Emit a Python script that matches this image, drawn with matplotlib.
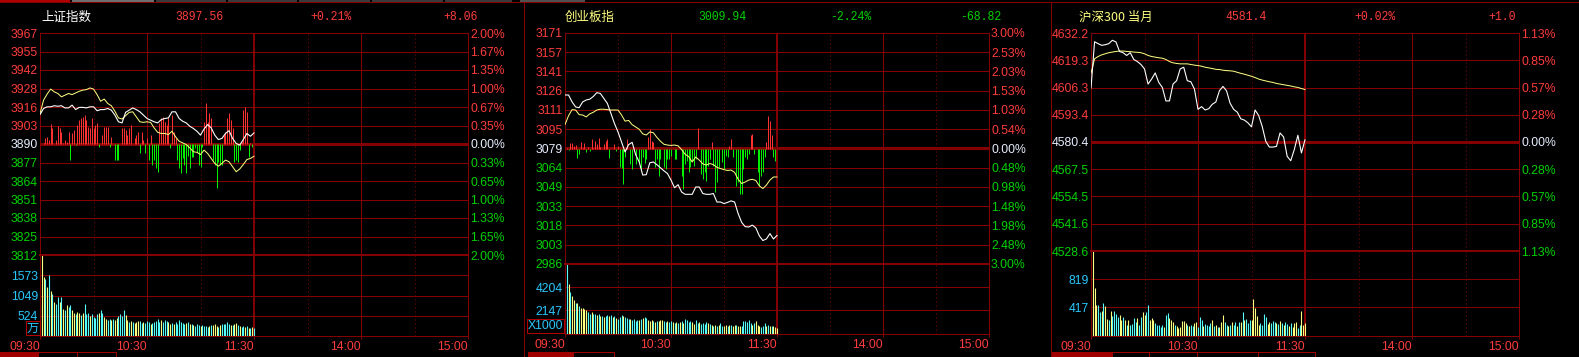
import numpy as np
import matplotlib
matplotlib.use('Agg')
import matplotlib.pyplot as plt
from matplotlib.patches import Rectangle

plt.rcParams['font.family'] = ['Liberation Sans', 'Noto Sans CJK SC', 'DejaVu Sans']

W, H = 1579, 357
PX = 0.72  # one pixel in points at dpi 100

############## data
t_line = list(range(0, 121, 2))   # minutes after 09:30 (sampled every 2 min)
t_bar = list(range(121))          # one bar per minute
time_ticks = [0, 60, 120, 180, 240]
time_labels = ['09:30', '10:30', '11:30', '14:00', '15:00']

# 上证指数
sh_name = '上证指数'
sh_head = ['3897.56', '+0.21%', '+8.06']
sh_prev = 3889.50
sh_range = 2.00
sh_left = ['3967', '3955', '3942', '3928', '3916', '3903', '3890',
           '3877', '3864', '3851', '3838', '3825', '3812']
sh_right = ['2.00%', '1.67%', '1.35%', '1.00%', '0.67%', '0.35%', '0.00%',
            '0.33%', '0.65%', '1.00%', '1.33%', '1.65%', '2.00%']
sh_white = [0.53, 0.64, 0.67, 0.67, 0.69, 0.68, 0.69, 0.65, 0.65, 0.70, 0.62,
            0.66, 0.66, 0.65, 0.67, 0.67, 0.60, 0.62, 0.62, 0.64, 0.61, 0.52,
            0.40, 0.38, 0.57, 0.61, 0.65, 0.62, 0.58, 0.52, 0.46, 0.43, 0.40,
            0.38, 0.44, 0.46, 0.47, 0.58, 0.58, 0.46, 0.41, 0.38, 0.32, 0.28,
            0.23, 0.16, 0.27, 0.35, 0.29, 0.16, 0.08, 0.10, 0.19, 0.24, 0.10,
            0.01, -0.02, 0.08, 0.19, 0.14, 0.20]
sh_yellow = [0.55, 0.79, 0.90, 0.99, 0.94, 0.91, 0.85, 0.88, 0.91, 0.89, 0.92,
             0.95, 0.97, 0.98, 1.01, 0.99, 0.89, 0.77, 0.81, 0.73, 0.69, 0.59,
             0.47, 0.45, 0.51, 0.57, 0.58, 0.49, 0.40, 0.39, 0.40, 0.39, 0.29,
             0.21, 0.19, 0.19, 0.17, 0.23, 0.13, 0.05, 0.02, -0.01, -0.07, -0.14,
             -0.15, -0.19, -0.11, -0.17, -0.26, -0.35, -0.40, -0.35, -0.29, -0.32,
             -0.41, -0.50, -0.45, -0.37, -0.28, -0.26, -0.22]
sh_breadth = [0, 0, 1, 6, 7, 4, 20, 16, 0, 4,
              18, 16, 12, 1, 4, 2, 12, -16, 11, 14,
              -1, 19, 24, 26, 27, 29, 24, 17, 16, 26,
              16, 19, 21, -3, 0, 9, 17, 17, 17, -3,
              7, 0, -16, -16, -16, 0, 16, 16, 14, 9,
              16, 19, 0, 6, 9, 12, -9, 12, 4, -9,
              6, -16, 9, -21, -16, -24, -28, 21, 26, 27,
              22, 19, 26, -4, 29, 12, 6, -16, -24, -29,
              -14, -21, -29, -12, -24, -13, -13, -4, -8, -21,
              -23, -3, 22, 41, 22, 31, 26, -16, -21, -44,
              -18, -21, -21, 9, 12, 26, 31, 24, 16, -18,
              -16, -18, -6, 2, 34, 37, 32, -13, 1, -3, 0]
sh_vol = [791, 2090, 1522, 1479, 1264, 1591, 1178, 1092, 877, 834,
          1006, 877, 1006, 705, 662, 791, 748, 791, 662, 594,
          559, 619, 594, 533, 594, 817, 559, 594, 507, 576,
          490, 473, 559, 594, 679, 594, 490, 447, 421, 447,
          421, 439, 404, 473, 507, 559, 507, 662, 533, 404,
          361, 387, 361, 335, 361, 378, 387, 335, 361, 335,
          387, 361, 318, 335, 361, 387, 447, 361, 421, 361,
          404, 387, 361, 318, 335, 318, 361, 318, 404, 361,
          335, 318, 335, 361, 318, 301, 275, 249, 318, 275,
          266, 275, 249, 266, 232, 249, 275, 275, 301, 249,
          232, 275, 318, 301, 318, 361, 301, 275, 275, 318,
          335, 275, 249, 232, 249, 232, 249, 215, 215, 232, 215]
sh_vol_dir = ('yyycycycyc' 'cycycyccyy' 'cyycycccyc' 'cccyccyycc' 'ycyyccccyy'
              'cycyyyccyc' 'ccycccccyc' 'ccyycycccc' 'ccycycyccc' 'yccccycyyy'
              'cycccccycy' 'ycyccycycy' 'c')
sh_vol_ticks = [524, 1049, 1573]
sh_vol_top = 2098
sh_unit = '万'

# 创业板指
cy_name = '创业板指'
cy_head = ['3009.94', '-2.24%', '-68.82']
cy_prev = 3078.76
cy_range = 3.00
cy_left = ['3171', '3157', '3141', '3126', '3111', '3095', '3079',
           '3064', '3049', '3033', '3018', '3003', '2986']
cy_right = ['3.00%', '2.53%', '2.03%', '1.53%', '1.03%', '0.54%', '0.00%',
            '0.48%', '0.98%', '1.48%', '1.98%', '2.48%', '3.00%']
cy_white = [1.39, 1.39, 1.21, 1.08, 1.06, 1.21, 1.26, 1.28, 1.35, 1.45, 1.43,
            1.30, 1.17, 0.91, 0.65, 0.43, 0.17, -0.09, 0.10, 0.16, -0.16, -0.35,
            -0.69, -0.68, -0.37, -0.35, -0.42, -0.50, -0.58, -0.65, -0.82, -1.02,
            -0.94, -1.13, -1.19, -1.19, -1.19, -1.00, -1.00, -1.17, -1.19, -1.19,
            -1.17, -1.39, -1.39, -1.43, -1.40, -1.36, -1.39, -1.69, -1.92, -2.03,
            -2.04, -1.99, -2.06, -2.27, -2.39, -2.35, -2.21, -2.35, -2.26]
cy_yellow = [0.62, 0.85, 1.01, 1.00, 0.88, 0.87, 0.82, 0.90, 0.94, 1.00, 1.02,
             1.02, 1.01, 1.00, 1.00, 1.00, 0.87, 0.71, 0.73, 0.62, 0.56, 0.50,
             0.38, 0.35, 0.43, 0.41, 0.29, 0.19, 0.11, 0.09, 0.08, 0.09, 0.07,
             -0.03, -0.15, -0.21, -0.35, -0.22, -0.30, -0.40, -0.43, -0.39, -0.42,
             -0.49, -0.52, -0.55, -0.57, -0.56, -0.62, -0.80, -0.91, -0.87, -0.82,
             -0.80, -0.83, -0.97, -1.04, -0.95, -0.82, -0.74, -0.74]
cy_breadth = [0, 1, -1, 6, 6, 3, 4, -9, -5, 7,
              1, 6, -3, 2, -2, 10, 1, 8, 5, 11,
              2, 0, 5, 8, 10, -9, 0, 0, 5, -2,
              3, -18, -19, -35, -8, 10, 0, -15, -20, 0,
              -15, 0, -13, -22, -8, -14, -10, 12, 20, 8,
              7, -18, -10, -27, -10, 0, -18, -20, -10, -10,
              -7, 0, -10, -10, 0, 0, -27, -40, -15, -12,
              -23, -18, -12, -17, -10, 21, 0, -25, -30, -23,
              -32, -17, -10, 7, -17, -43, -33, -18, 0, -13,
              -20, -7, -8, 3, 10, -8, 0, -37, -33, -45,
              -45, -20, -8, -10, -5, 14, 15, -5, 0, -23,
              -37, -27, -23, -8, 7, 33, 28, 14, -8, -12, 0]
cy_vol = [1520, 6288, 4500, 3814, 3427, 3069, 2771, 2831, 2563, 2324,
          2384, 2265, 2116, 1937, 1818, 1937, 1818, 1818, 1728, 1788,
          1639, 1579, 1520, 1579, 1699, 1639, 1728, 1520, 1639, 1401,
          1371, 1520, 1728, 1639, 1520, 1430, 1341, 1371, 1281, 1341,
          1192, 1281, 1222, 1341, 1401, 1520, 1430, 1281, 1192, 1281,
          1132, 1043, 1132, 1192, 1281, 1222, 1132, 1043, 1132, 1043,
          1132, 1043, 983, 1043, 983, 1043, 1132, 983, 1341, 1222,
          1043, 1132, 1043, 924, 1281, 983, 1043, 924, 983, 924,
          1043, 983, 924, 834, 745, 805, 745, 834, 983, 745,
          745, 805, 745, 834, 805, 745, 805, 834, 745, 685,
          745, 1132, 1132, 1043, 1222, 983, 834, 983, 1132, 834,
          685, 626, 745, 983, 745, 834, 745, 685, 745, 626, 536]
cy_vol_dir = ('wcycyycycy' 'yyyccyccyc' 'ycyccycycy' 'cccycccycc' 'ccycyccyyy'
              'cycyyyccyc' 'cycycycycc' 'ccyyccyccc' 'cycycycycc' 'yycycyycyy'
              'ccccccycyy' 'ycccycycyy' 'y')
cy_vol_ticks = [2147, 4204]
cy_vol_top = 6300
cy_unit = 'X1000'

# 沪深300 当月 (price points)
hs_name = '沪深300 当月'
hs_head = ['4581.4', '+0.02%', '+1.0']
hs_prev = 4580.4
hs_range = 1.13
hs_left = ['4632.2', '4619.3', '4606.3', '4593.4', '4580.4',
           '4567.5', '4554.5', '4541.6', '4528.6']
hs_right = ['1.13%', '0.85%', '0.57%', '0.28%', '0.00%',
            '0.28%', '0.57%', '0.85%', '1.13%']
hs_white = [4606.0, 4628.0, 4627.1, 4626.3, 4626.6, 4627.1, 4628.7, 4627.9,
            4623.4, 4622.8, 4621.5, 4622.8, 4619.6, 4618.6, 4617.2, 4615.1,
            4607.9, 4610.3, 4613.2, 4608.7, 4606.3, 4599.9, 4599.9, 4607.9,
            4609.5, 4615.1, 4615.9, 4609.5, 4609.0, 4605.5, 4595.9, 4597.2,
            4595.6, 4596.2, 4598.3, 4599.4, 4604.7, 4606.8, 4604.7, 4598.8,
            4595.9, 4594.6, 4591.4, 4590.8, 4589.5, 4587.6, 4595.6, 4593.0,
            4587.8, 4580.7, 4578.0, 4578.0, 4578.3, 4584.7, 4582.8, 4573.6,
            4571.5, 4576.8, 4583.6, 4575.2, 4581.4]
hs_yellow = [4613.0, 4619.9, 4621.0, 4621.8, 4622.3, 4622.8, 4623.1, 4623.4,
             4623.6, 4623.6, 4623.4, 4623.3, 4623.1, 4623.0, 4622.8, 4622.3,
             4621.5, 4621.0, 4620.7, 4620.4, 4620.2, 4619.6, 4618.6, 4618.0,
             4617.7, 4617.5, 4617.5, 4617.5, 4617.2, 4616.9, 4616.7, 4616.4,
             4615.9, 4615.6, 4615.3, 4614.9, 4614.8, 4614.5, 4614.3, 4614.2,
             4614.0, 4613.5, 4613.0, 4612.6, 4612.1, 4611.6, 4611.0, 4610.3,
             4609.8, 4609.4, 4609.0, 4608.7, 4608.2, 4607.9, 4607.6, 4607.3,
             4607.0, 4606.6, 4606.3, 4605.8, 4605.3]
hs_vol = [126, 1237, 694, 451, 451, 354, 369, 475, 427, 243,
          233, 364, 291, 364, 320, 272, 306, 233, 272, 233,
          155, 233, 160, 175, 257, 209, 257, 160, 281, 344,
          306, 354, 451, 233, 257, 233, 194, 160, 160, 136,
          160, 136, 306, 340, 257, 233, 209, 160, 146, 112,
          126, 218, 218, 194, 160, 146, 160, 146, 184, 209,
          136, 272, 233, 146, 175, 160, 146, 184, 233, 146,
          160, 136, 126, 209, 306, 209, 160, 146, 160, 209,
          160, 209, 146, 209, 209, 354, 233, 243, 194, 233,
          233, 534, 403, 291, 160, 184, 160, 320, 272, 175,
          209, 184, 223, 209, 184, 175, 223, 194, 160, 209,
          175, 146, 184, 136, 184, 209, 112, 160, 369, 160, 184]
hs_vol_dir = ('wyyyccycyy' 'cyccccyycy' 'cyccccyccy' 'yccyyycccc' 'cyccyyycyy'
              'yyyycyccyy' 'cccyccccyc' 'ycyyyccycy' 'ccycycyccc' 'yyyyyccccy'
              'ycccycycyc' 'cycyyyccyy' 'y')
hs_vol_ticks = [417, 819]
hs_vol_top = 1230

############## style
GRID = '#840000'
RED = '#FF3C3C'
GREEN = '#00D200'
CYAN = '#28C8FF'
ZERO_TXT = '#E6EEFF'
HEAD_Y = '#FFFF80'
VOLC = {'y': '#FFFF80', 'c': '#54FCFC', 'w': '#FFFFFF'}
FS = 8.8

fig = plt.figure(figsize=(W / 100, H / 100), dpi=100, facecolor='black')


def px_axes(x0, y0, x1, y1):
    return fig.add_axes([x0 / W, 1 - y1 / H, (x1 - x0) / W, (y1 - y0) / H])


def px_rect(x0, y0, x1, y1, **kw):
    fig.add_artist(Rectangle((x0 / W, 1 - y1 / H), (x1 - x0) / W, (y1 - y0) / H,
                             transform=fig.transFigure, **kw))


def vgrid(ax):
    for t in (30, 90, 150, 210):
        ax.axvline(t, color=GRID, lw=PX, ls=(0, (1, 3)), zorder=1)
    ax.axvline(60, color=GRID, lw=PX, zorder=1)
    ax.axvline(180, color=GRID, lw=PX, zorder=1)
    ax.axvline(120, color=GRID, lw=2 * PX, zorder=1)


def panel(box, prev, rng, left, right, white, yellow, breadth, vol, vdir,
          vticks, vtop, pct=True):
    x0, x1, y0, ysep, y1 = box
    lo, hi = prev * (1 - rng / 100), prev * (1 + rng / 100)
    levels = np.linspace(hi, lo, len(left))
    mid = len(left) // 2
    tcol = [RED] * mid + [ZERO_TXT] + [GREEN] * mid

    # price area with grid and left labels
    ax = px_axes(x0, y0, x1, ysep)
    ax.set_facecolor('black')
    ax.set_xlim(0, 240)
    ax.set_ylim(lo, hi)
    ax.set_xticks([])
    ax.set_yticks(levels, left)
    ax.tick_params(axis='y', length=0, pad=1.5, labelsize=FS)
    for lb, c in zip(ax.get_yticklabels(), tcol):
        lb.set_color(c)
    for i, lv in enumerate(levels[1:-1], 1):
        ax.axhline(lv, color=GRID, lw=(3 if i == mid else 1) * PX, zorder=1)
    vgrid(ax)
    for s in ('left', 'right', 'top'):
        ax.spines[s].set_color(GRID)
        ax.spines[s].set_linewidth(PX)
    ax.spines['bottom'].set_visible(False)

    # breadth bars
    if breadth is not None:
        axb = px_axes(x0, y0, x1, ysep)
        axb.patch.set_visible(False)
        axb.axis('off')
        axb.set_xlim(0, 240)
        half = (ysep - y0) / 2.0
        axb.set_ylim(-half, half)
        axb.vlines(t_bar, 0, breadth,
                   colors=['#FF3232' if v > 0 else '#00F000' for v in breadth],
                   lw=1.0 * PX)

    # lines + right labels
    axl = px_axes(x0, y0, x1, ysep)
    axl.patch.set_visible(False)
    axl.set_xlim(0, 240)
    axl.set_ylim(lo, hi)
    for s in axl.spines.values():
        s.set_visible(False)
    axl.set_xticks([])
    axl.yaxis.tick_right()
    axl.set_yticks(levels, right)
    axl.tick_params(axis='y', length=0, pad=1.5, labelsize=FS)
    for lb, c in zip(axl.get_yticklabels(), tcol):
        lb.set_color(c)
    if pct:
        yw = [prev * (1 + p / 100) for p in white]
        yy = [prev * (1 + p / 100) for p in yellow]
    else:
        yw, yy = white, yellow
    axl.plot(t_line, yy, color='#FFFF80', lw=1.0 * PX, zorder=3)
    axl.plot(t_line, yw, color='white', lw=1.1 * PX, zorder=4)

    # volume
    axv = px_axes(x0, ysep, x1, y1)
    axv.set_facecolor('black')
    axv.set_xlim(0, 240)
    axv.set_ylim(0, vtop)
    axv.set_yticks(vticks, [str(v) for v in vticks])
    axv.tick_params(axis='y', length=0, pad=1.5, labelsize=FS, labelcolor=CYAN)
    axv.set_xticks(time_ticks, time_labels)
    axv.tick_params(axis='x', length=2.2, width=PX, color=GRID, pad=1.2,
                    labelsize=FS, labelcolor=RED)
    for lb in axv.get_xticklabels():
        lb.set_horizontalalignment('right')
    for v in vticks:
        axv.axhline(v, color=GRID, lw=PX, zorder=1)
    vgrid(axv)
    for s in ('left', 'right', 'bottom'):
        axv.spines[s].set_color(GRID)
        axv.spines[s].set_linewidth(PX)
    axv.spines['top'].set_color(GRID)
    axv.spines['top'].set_linewidth(2 * PX)
    axv.vlines(t_bar, 0, vol, colors=[VOLC[d] for d in vdir], lw=1.1 * PX, zorder=2)
    return ax


panel((40, 468, 33, 255, 336), sh_prev, sh_range, sh_left, sh_right,
      sh_white, sh_yellow, sh_breadth, sh_vol, sh_vol_dir, sh_vol_ticks, sh_vol_top)
panel((565, 989, 33, 264, 334), cy_prev, cy_range, cy_left, cy_right,
      cy_white, cy_yellow, cy_breadth, cy_vol, cy_vol_dir, cy_vol_ticks, cy_vol_top)
panel((1091, 1519, 33, 251, 336), hs_prev, hs_range, hs_left, hs_right,
      hs_white, hs_yellow, None, hs_vol, hs_vol_dir, hs_vol_ticks, hs_vol_top, pct=False)

############## headers
def head(x, s, color, **kw):
    fig.text(x / W, 1 - 17 / H, s, color=color, va='center', **kw)

head(41, sh_name, 'white', fontsize=9, family=['Noto Sans CJK SC'])
head(565, cy_name, HEAD_Y, fontsize=9, family=['Noto Sans CJK SC'])
head(1079, hs_name, HEAD_Y, fontsize=9, family=['Noto Sans CJK SC'])
for xs, vals, col in (((175, 310, 443), sh_head, RED),
                      ((698, 830, 960), cy_head, GREEN),
                      ((1225, 1354, 1488), hs_head, RED)):
    for x, s in zip(xs, vals):
        head(x, s, col, fontsize=8.3, family=['Liberation Mono'])

# unit boxes
fig.text(33 / W, 1 - 328 / H, sh_unit, color=CYAN, fontsize=8.8, ha='center', va='center',
         family=['Noto Sans CJK SC'],
         bbox=dict(boxstyle='square,pad=0.05', fc='none', ec='#B00000', lw=PX))
fig.text(545.5 / W, 1 - 326 / H, cy_unit, color=CYAN, fontsize=8.8, ha='center', va='center',
         bbox=dict(boxstyle='square,pad=0.1', fc='none', ec='#B00000', lw=PX))

############## window decoration (tab strips and separators)
for xa, xb, c in ((0, 70, '#B00000'), (72, 154, '#6E6E6E'), (156, 226, '#3A3A3A'),
                  (228, 297, '#3A3A3A'), (299, 370, '#3A3A3A'), (372, 443, '#3A3A3A'),
                  (445, 512, '#3A3A3A'), (520, 585, '#505050')):
    px_rect(xa, 0, xb, 2, fc=c, ec='none')
px_rect(0, 2, W, 3, fc=GRID, ec='none')
px_rect(523.5, 2, 524.5, H, fc=GRID, ec='none')
px_rect(1050.5, 2, 1051.5, H, fc=GRID, ec='none')
for xa, xb, filled in ((0, 38, True), (38, 77, False), (77, 116, False),
                       (528, 573, True), (573, 614, False),
                       (1052, 1112, True), (1112, 1149, False), (1149, 1197, False),
                       (1197, 1258, False), (1258, 1315, False)):
    px_rect(xa, 352, xb, 360, fc='#A00000' if filled else 'black', ec='#A00000', lw=PX)

fig.savefig('out.png', dpi=100, facecolor='black')
